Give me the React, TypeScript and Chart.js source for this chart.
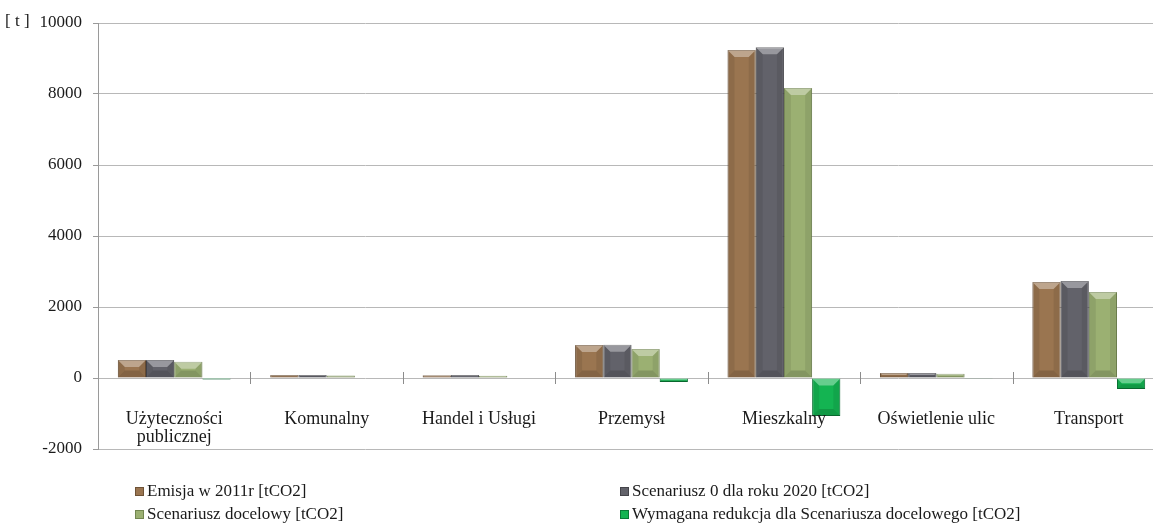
import React, { useEffect, useRef } from "react";
import { Chart, registerables } from "chart.js";

Chart.register(...registerables);

const categories: string[][] = [
  ["Użyteczności", "publicznej"],
  ["Komunalny"],
  ["Handel i Usługi"],
  ["Przemysł"],
  ["Mieszkalny"],
  ["Oświetlenie ulic"],
  ["Transport"],
];
const emisja2011 = [507, 85, 80, 930, 9240, 140, 2704];
const scenariusz0 = [510, 88, 82, 935, 9320, 142, 2735];
const scenariuszDocelowy = [455, 72, 65, 820, 8170, 122, 2425];
const wymaganaRedukcja = [-45, -13, -15, -115, -1070, -20, -310];
const seriesNames = [
  "Emisja w 2011r [tCO2]",
  "Scenariusz 0 dla roku 2020 [tCO2]",
  "Scenariusz docelowy [tCO2]",
  "Wymagana redukcja dla Scenariusza docelowego [tCO2]",
];
const yTicks = [-2000, 0, 2000, 4000, 6000, 8000, 10000];

const FONT = "'Liberation Serif', 'DejaVu Serif', serif";
const fills = ["#9a7550", "#62626a", "#9bb072", "#14b452"];
const borders = ["#6e5236", "#44444a", "#728650", "#0b7a37"];

const overlayPlugin = {
  id: "overlay",
  afterDatasetsDraw(chart: any) {
    const ctx = chart.ctx;
    chart.data.datasets.forEach((_: any, di: number) => {
      const meta = chart.getDatasetMeta(di);
      meta.data.forEach((bar: any) => {
        const left = bar.x - bar.width / 2;
        const right = bar.x + bar.width / 2;
        const top = Math.min(bar.y, bar.base);
        const bottom = Math.max(bar.y, bar.base);
        const h = bottom - top;
        const w = right - left;
        const b = Math.min(7, h / 2.2, w / 3);
        if (h < 1) return;
        ctx.save();
        ctx.fillStyle = "rgba(255,255,255,0.35)";
        ctx.beginPath();
        ctx.moveTo(left, top);
        ctx.lineTo(right, top);
        ctx.lineTo(right - b, top + b);
        ctx.lineTo(left + b, top + b);
        ctx.closePath();
        ctx.fill();
        ctx.fillStyle = "rgba(0,0,0,0.08)";
        ctx.beginPath();
        ctx.moveTo(left, top);
        ctx.lineTo(left + b, top + b);
        ctx.lineTo(left + b, bottom - b);
        ctx.lineTo(left, bottom);
        ctx.closePath();
        ctx.fill();
        ctx.beginPath();
        ctx.moveTo(right, top);
        ctx.lineTo(right - b, top + b);
        ctx.lineTo(right - b, bottom - b);
        ctx.lineTo(right, bottom);
        ctx.closePath();
        ctx.fill();
        ctx.fillStyle = "rgba(0,0,0,0.15)";
        ctx.beginPath();
        ctx.moveTo(left, bottom);
        ctx.lineTo(left + b, bottom - b);
        ctx.lineTo(right - b, bottom - b);
        ctx.lineTo(right, bottom);
        ctx.closePath();
        ctx.fill();
        ctx.restore();
      });
    });
  },
  afterDraw(chart: any) {
    const ctx = chart.ctx;
    const xs = chart.scales.x;
    const ys = chart.scales.y;
    const y0 = ys.getPixelForValue(0);
    ctx.save();
    ctx.strokeStyle = "#8c8c8c";
    ctx.lineWidth = 1;
    for (let i = 0; i < categories.length - 1; i++) {
      const x = Math.round((xs.getPixelForValue(i) + xs.getPixelForValue(i + 1)) / 2) + 0.5;
      ctx.beginPath();
      ctx.moveTo(x, y0 - 6);
      ctx.lineTo(x, y0 + 6);
      ctx.stroke();
    }
    ctx.fillStyle = "#1a1a1a";
    ctx.font = `18px ${FONT}`;
    ctx.textAlign = "center";
    ctx.textBaseline = "middle";
    categories.forEach((lines, i) => {
      const x = xs.getPixelForValue(i);
      lines.forEach((ln, k) => {
        ctx.fillText(ln, x, y0 + 41 + k * 18);
      });
    });
    ctx.font = `17px ${FONT}`;
    ctx.textAlign = "left";
    ctx.fillText("[ t ]", 5, ys.getPixelForValue(10000) - 1);
    ctx.restore();
  },
};

export default function App() {
  const ref = useRef<HTMLCanvasElement | null>(null);
  useEffect(() => {
    document.body.style.margin = "0";
    const datasets = [emisja2011, scenariusz0, scenariuszDocelowy, wymaganaRedukcja].map((d, i) => ({
      label: seriesNames[i],
      data: d,
      backgroundColor: fills[i],
      borderColor: borders[i],
      borderWidth: 1,
      categoryPercentage: 0.74,
      barPercentage: 1.0,
    }));
    const chart = new Chart(ref.current as HTMLCanvasElement, {
      type: "bar",
      data: { labels: categories.map((c) => c.join(" ")), datasets },
      options: {
        animation: false,
        responsive: false,
        maintainAspectRatio: false,
        layout: { padding: { left: 0, top: 23, right: 0, bottom: 76 } },
        plugins: { legend: { display: false }, tooltip: { enabled: false } },
        scales: {
          x: {
            display: true,
            ticks: { display: false },
            grid: { display: false, drawTicks: false },
            border: { display: false },
          },
          y: {
            min: -2000,
            max: 10000,
            afterFit: (s: any) => {
              s.width = 98;
            },
            afterBuildTicks: (s: any) => {
              s.ticks = yTicks.map((v) => ({ value: v }));
            },
            ticks: {
              padding: 11,
              color: "#1a1a1a",
              font: { family: FONT, size: 17 },
              callback: (v: any) => String(v),
            },
            grid: { color: "#b8b8b8", lineWidth: 1, drawTicks: true, tickLength: 5, tickColor: "#9a9a9a" },
            border: { display: true, color: "#9a9a9a" },
          },
        },
      },
      plugins: [overlayPlugin],
    });
    return () => chart.destroy();
  }, []);

  const legendPos = [
    { x: 135, y: 491 },
    { x: 620, y: 491 },
    { x: 135, y: 514 },
    { x: 620, y: 514 },
  ];

  return (
    <div style={{ position: "relative", width: 1153, height: 525, background: "#fff", overflow: "hidden" }}>
      <canvas ref={ref} width={1165} height={525} style={{ display: "block" }} />
      {seriesNames.map((n, i) => (
        <div
          key={n}
          style={{
            position: "absolute",
            left: legendPos[i].x,
            top: legendPos[i].y - 11,
            height: 22,
            display: "flex",
            alignItems: "center",
            fontFamily: FONT,
            fontSize: 17,
            color: "#1a1a1a",
            whiteSpace: "nowrap",
          }}
        >
          <span
            style={{
              display: "inline-block",
              width: 9,
              height: 9,
              background: fills[i],
              border: `1px solid ${borders[i]}`,
              boxSizing: "border-box",
              marginRight: 3,
            }}
          />
          {n}
        </div>
      ))}
    </div>
  );
}
